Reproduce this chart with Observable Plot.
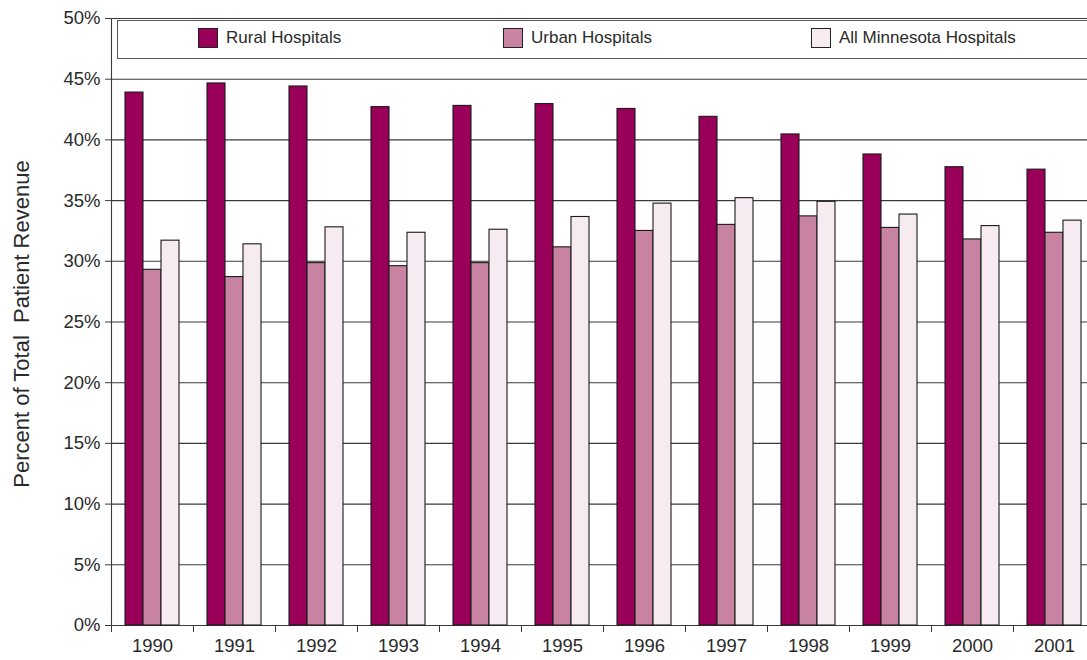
<!DOCTYPE html>
<html><head><meta charset="utf-8">
<script src="https://cdn.jsdelivr.net/npm/d3@7"></script>
<script src="https://cdn.jsdelivr.net/npm/@observablehq/plot@0.6"></script>
<style>
html,body{margin:0;padding:0;background:#fff;overflow:hidden;}
body{font-family:"Liberation Sans",Arial,Helvetica,sans-serif;color:#2a2a2a;}
#wrap{position:relative;width:1087px;height:660px;overflow:hidden;}
#chart{position:absolute;left:0;top:0;width:1100px;}
#chart svg{max-width:none !important;}
#ylabel{position:absolute;left:22px;top:324px;transform:translate(-50%,-50%) rotate(-90deg);white-space:pre;font-size:22px;color:#2a2a2a;}
#legend{position:absolute;left:117px;top:20px;width:990px;height:37px;border:1.3px solid #555;background:#fff;}
.item{position:absolute;top:7px;height:20px;display:flex;align-items:center;font-size:17px;white-space:nowrap;}
.sw{width:20px;height:20px;border:1.5px solid #222;margin-right:8px;box-sizing:border-box;}
</style></head><body>
<div id="wrap"><div id="chart"></div><div id="ylabel"></div><div id="legend"></div></div>
<script>
const years = [1990,1991,1992,1993,1994,1995,1996,1997,1998,1999,2000,2001];
const series = ["Rural Hospitals","Urban Hospitals","All Minnesota Hospitals"];
const rural = [43.9,44.65,44.4,42.7,42.8,42.95,42.55,41.9,40.45,38.8,37.75,37.55];
const urban = [29.3,28.7,29.85,29.6,29.85,31.15,32.5,33.0,33.7,32.75,31.8,32.35];
const allMn = [31.7,31.4,32.8,32.35,32.6,33.65,34.75,35.2,34.9,33.85,32.9,33.35];
const colors = ["#99005a","#c882a2","#f6ebf0"];
const yTicks = [0,5,10,15,20,25,30,35,40,45,50];
const yLabel = "Percent of Total  Patient Revenue";

const data = years.flatMap((y,i)=>[
  {year:y, series:series[0], value:rural[i]},
  {year:y, series:series[1], value:urban[i]},
  {year:y, series:series[2], value:allMn[i]}
]);

const W = 1100, ML = 111, MR = 5;
const step = (W - ML - MR) / years.length;

const chart = Plot.plot({
  width: W, height: 660,
  marginLeft: ML, marginRight: MR, marginTop: 18, marginBottom: 35,
  style: {fontFamily:'"Liberation Sans",Arial,Helvetica,sans-serif', fontSize:"18.5px", color:"#2a2a2a", background:"white", maxWidth:"none"},
  fx: {domain: years, padding: 0, label: null},
  x: {domain: series, paddingInner: 0, paddingOuter: 0.73, axis: null},
  y: {domain: [0,50], label: null},
  color: {domain: series, range: colors},
  marks: [
    Plot.ruleY(yTicks, {stroke:"#3a3a3a", strokeWidth:1.1}),
    Plot.barY(data, {fx:"year", x:"series", y:"value", fill:"series", stroke:"#1a1a1a", strokeWidth:1.1}),
    Plot.frame({anchor:"left", facet:"super", stroke:"#3a3a3a", strokeWidth:1.1}),
    Plot.axisY(yTicks, {tickSize:6, tickPadding:5, tickFormat:d=>d+"%", label:null, stroke:"#3a3a3a"}),
    Plot.axisFx({anchor:"bottom", tickSize:0, tickPadding:13, label:null, tickFormat:d=>String(d)}),
    Plot.axisFx({anchor:"bottom", tickSize:7, tickFormat:()=>"", label:null, dx:-step/2, stroke:"#3a3a3a"})
  ]
});
chart.style.maxWidth = "none";
document.getElementById("chart").appendChild(chart);
document.getElementById("ylabel").textContent = yLabel;

const legendPos = [80, 385, 693];
const lg = document.getElementById("legend");
series.forEach((s,i)=>{
  const it = document.createElement("div");
  it.className = "item";
  it.style.left = legendPos[i] + "px";
  const sw = document.createElement("div");
  sw.className = "sw";
  sw.style.background = colors[i];
  const t = document.createElement("span");
  t.textContent = s;
  it.appendChild(sw); it.appendChild(t);
  lg.appendChild(it);
});
</script>
</body></html>
